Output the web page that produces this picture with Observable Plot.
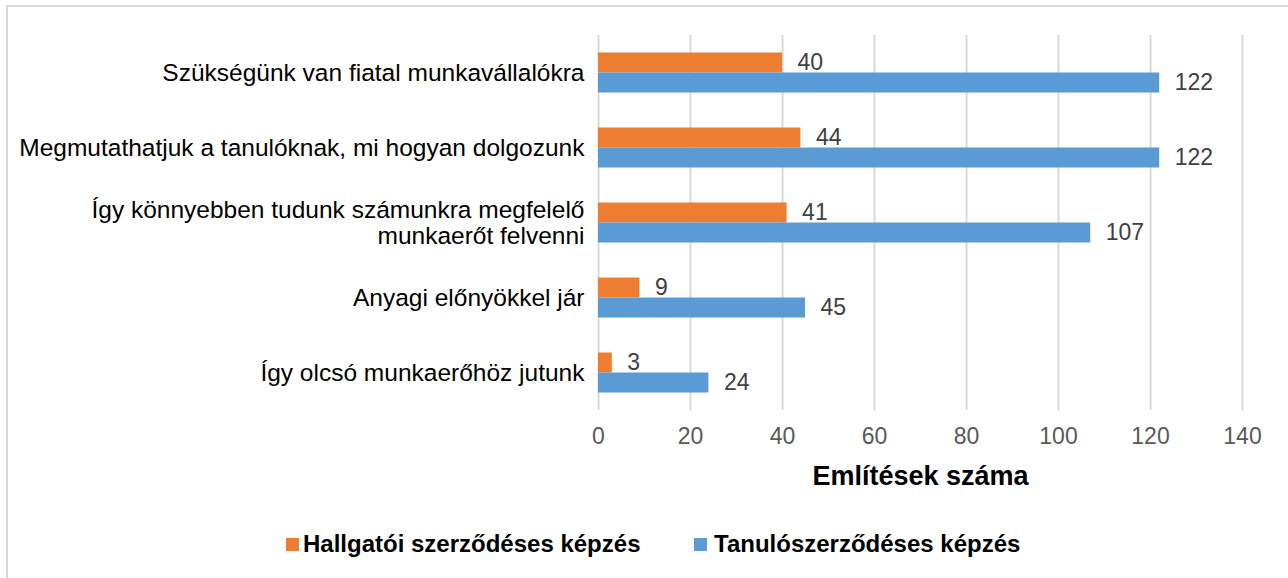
<!DOCTYPE html>
<html>
<head>
<meta charset="utf-8">
<script src="https://cdn.jsdelivr.net/npm/d3@7"></script>
<script src="https://cdn.jsdelivr.net/npm/@observablehq/plot@0.6"></script>
<style>
  html, body { margin: 0; padding: 0; background: #fff; width: 1288px; height: 578px; overflow: hidden; }
  body { position: relative; font-family: "Liberation Sans", Arial, sans-serif; }
  #frame { position: absolute; left: 6px; top: 5px; width: 1300px; height: 600px; border: 2px solid #d9d9d9; box-sizing: border-box; }
  #chart { position: absolute; left: 0; top: 0; }
  .lg { position: absolute; font-size: 24px; font-weight: bold; color: #000; line-height: 24px; white-space: nowrap; }
  .sw { position: absolute; width: 13px; height: 13px; }
</style>
</head>
<body>
<div id="frame"></div>
<div id="chart"></div>
<div class="sw" style="left:286px;top:538px;background:#ED7D31"></div>
<div class="lg" id="lg1" style="left:303px;top:532px"></div>
<div class="sw" style="left:694px;top:538px;background:#5B9BD5"></div>
<div class="lg" id="lg2" style="left:714px;top:532px"></div>
<script>
const categories = [
  "Szükségünk van fiatal munkavállalókra",
  "Megmutathatjuk a tanulóknak, mi hogyan dolgozunk",
  "Így könnyebben tudunk számunkra megfelelő\nmunkaerőt felvenni",
  "Anyagi előnyökkel jár",
  "Így olcsó munkaerőhöz jutunk"
];
const seriesNames = ["Hallgatói szerződéses képzés", "Tanulószerződéses képzés"];
const hallgatoi = [40, 44, 41, 9, 3];
const tanulo = [122, 122, 107, 45, 24];
const xTicks = [0, 20, 40, 60, 80, 100, 120, 140];
const axisTitle = "Említések száma";
const colors = ["#ED7D31", "#5B9BD5"];

const dataH = categories.map((c, i) => ({cat: c, value: hallgatoi[i]}));
const dataT = categories.map((c, i) => ({cat: c, value: tanulo[i]}));

document.getElementById("lg1").textContent = seriesNames[0];
document.getElementById("lg2").textContent = seriesNames[1];

const chart = Plot.plot({
  width: 1288,
  height: 500,
  marginLeft: 598,
  marginRight: 46,
  marginTop: 35,
  marginBottom: 90,
  style: {fontFamily: '"Liberation Sans", Arial, sans-serif', background: "transparent"},
  x: {domain: [0, 140], ticks: xTicks},
  y: {domain: categories, padding: 0},
  marks: [
    Plot.gridX(xTicks, {stroke: "#d9d9d9", strokeOpacity: 1, strokeWidth: 2}),
    Plot.barX(dataH, {x: "value", y: "cat", fill: colors[0], insetTop: 17.5, insetBottom: 37.5}),
    Plot.barX(dataT, {x: "value", y: "cat", fill: colors[1], insetTop: 37.5, insetBottom: 17.5}),
    Plot.text(dataH, {x: "value", y: "cat", text: d => String(d.value), dx: 15, dy: -10, textAnchor: "start", fontSize: 23, fill: "#404040"}),
    Plot.text(dataT, {x: "value", y: "cat", text: d => String(d.value), dx: 15, dy: 10, textAnchor: "start", fontSize: 23, fill: "#404040"}),
    Plot.axisX(xTicks, {tickSize: 0, tickPadding: 17, fontSize: 23, color: "#595959", label: null}),
    Plot.axisY({tickSize: 0, tickPadding: 14, fontSize: 24.5, color: "#000", label: null, lineHeight: 1.03}),
    Plot.text([axisTitle], {frameAnchor: "bottom", lineAnchor: "middle", dy: 66, fontSize: 27, fontWeight: "bold", fill: "#000"})
  ]
});
document.getElementById("chart").appendChild(chart);
</script>
</body>
</html>
